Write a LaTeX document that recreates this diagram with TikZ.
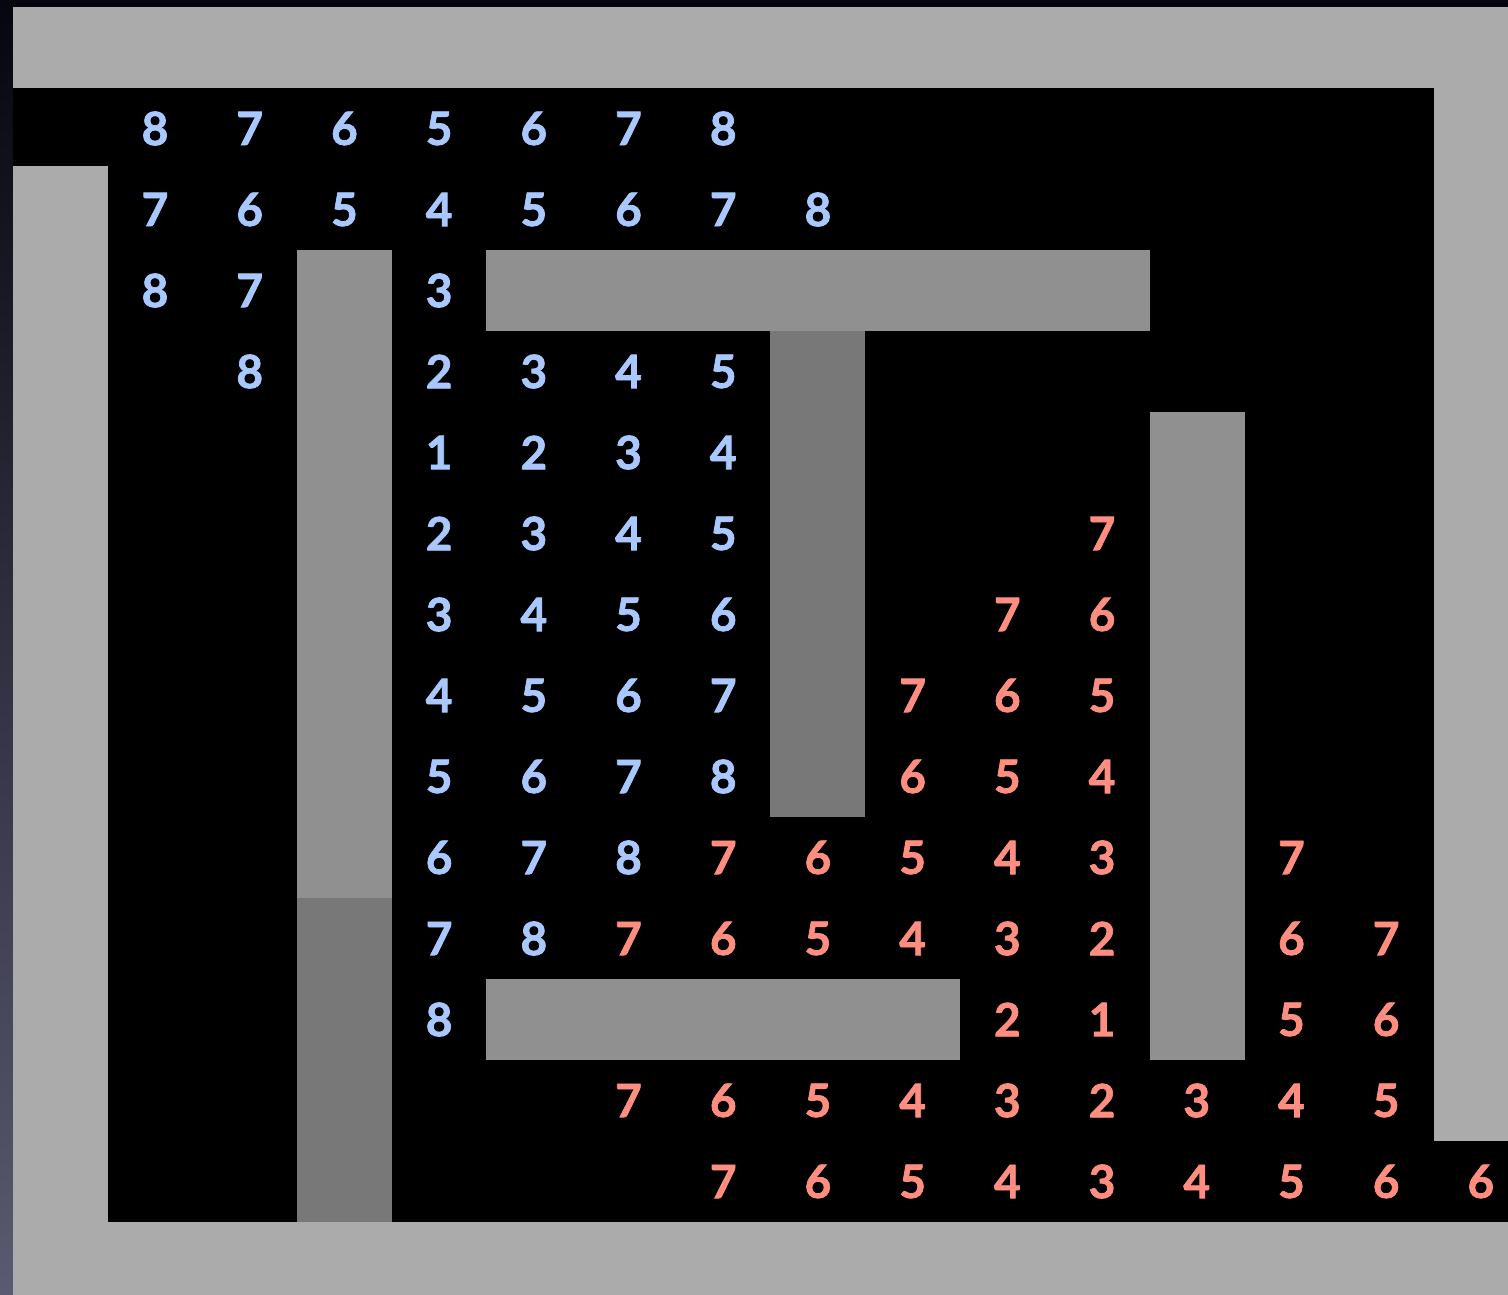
\documentclass[tikz,border=0pt]{standalone}
\usepackage{fontspec}
\setmainfont{Lato}[BoldFeatures={FakeBold=1.6}]
\definecolor{framegray}{HTML}{ABABAB}
\definecolor{midgray}{HTML}{909090}
\definecolor{darkgray}{HTML}{787878}
\definecolor{numblue}{HTML}{A8C8FF}
\definecolor{numred}{HTML}{FF8E80}
\definecolor{bgtop}{HTML}{06060F}
\definecolor{bgbot}{HTML}{5A5A70}
\begin{document}
\begin{tikzpicture}[x=1pt,y=-1pt,
  num/.style={inner sep=0pt,font=\fontsize{46}{46}\selectfont\bfseries},
  bluenum/.style={num,text=numblue},
  rednum/.style={num,text=numred}]
\useasboundingbox (0,0) rectangle (1508,1295);
% slide background
\shade[top color=bgtop,bottom color=bgbot] (0,0) rectangle (1508,1295);
% maze floor
\fill[black] (13,88) rectangle (1508,1222);
% outer walls
\fill[framegray] (13,7) rectangle (1508,88);
\fill[framegray] (13,166) rectangle (108,1295);
\fill[framegray] (13,1222) rectangle (1508,1295);
\fill[framegray] (1434,88) rectangle (1508,1141);
% inner walls
\fill[midgray] (297,250) rectangle (392,898);
\fill[darkgray] (297,898) rectangle (392,1222);
\fill[midgray] (486,250) rectangle (1150,331);
\fill[darkgray] (770,331) rectangle (865,817);
\fill[midgray] (1150,412) rectangle (1245,1060);
\fill[midgray] (486,979) rectangle (960,1060);
% blue distances
\foreach \c/\r/\d in {
  1/1/8,2/1/7,3/1/6,4/1/5,5/1/6,6/1/7,7/1/8,
  1/2/7,2/2/6,3/2/5,4/2/4,5/2/5,6/2/6,7/2/7,8/2/8,
  1/3/8,2/3/7,4/3/3,
  2/4/8,4/4/2,5/4/3,6/4/4,7/4/5,
  4/5/1,5/5/2,6/5/3,7/5/4,
  4/6/2,5/6/3,6/6/4,7/6/5,
  4/7/3,5/7/4,6/7/5,7/7/6,
  4/8/4,5/8/5,6/8/6,7/8/7,
  4/9/5,5/9/6,6/9/7,7/9/8,
  4/10/6,5/10/7,6/10/8,
  4/11/7,5/11/8,
  4/12/8}
  \node[bluenum] (b-\r-\c) at ({13+94.7*(\c+0.5)},{7+81*(\r+0.5)}) {\d};
% red distances
\foreach \c/\r/\d in {
  11/6/7,
  10/7/7,11/7/6,
  9/8/7,10/8/6,11/8/5,
  9/9/6,10/9/5,11/9/4,
  7/10/7,8/10/6,9/10/5,10/10/4,11/10/3,13/10/7,
  6/11/7,7/11/6,8/11/5,9/11/4,10/11/3,11/11/2,13/11/6,14/11/7,
  10/12/2,11/12/1,13/12/5,14/12/6,
  6/13/7,7/13/6,8/13/5,9/13/4,10/13/3,11/13/2,12/13/3,13/13/4,14/13/5,
  7/14/7,8/14/6,9/14/5,10/14/4,11/14/3,12/14/4,13/14/5,14/14/6,15/14/6}
  \node[rednum] (r-\r-\c) at ({13+94.7*(\c+0.5)},{7+81*(\r+0.5)}) {\d};
\end{tikzpicture}
\end{document}
